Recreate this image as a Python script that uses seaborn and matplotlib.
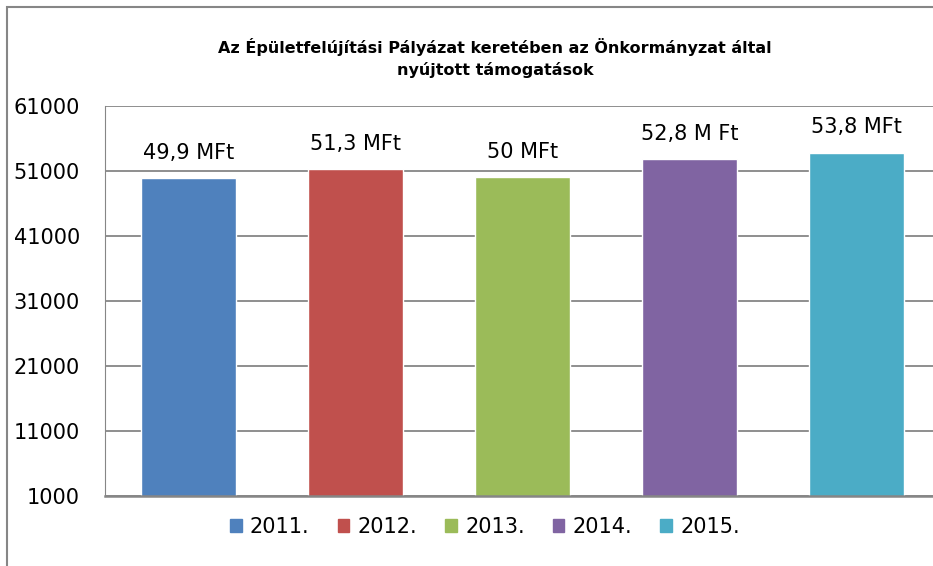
import matplotlib
matplotlib.use("Agg")
import matplotlib.pyplot as plt
import matplotlib.patches as mpatches
import seaborn as sns
import pandas as pd

years = ["2011.", "2012.", "2013.", "2014.", "2015."]
values = [49900, 51300, 50000, 52800, 53800]
labels = ["49,9 MFt", "51,3 MFt", "50 MFt", "52,8 M Ft", "53,8 MFt"]
colors = ["#4F81BD", "#C0504D", "#9BBB59", "#8064A2", "#4BACC6"]
yticks = [1000, 11000, 21000, 31000, 41000, 51000, 61000]

sns.set_style("white")
plt.rcParams["font.family"] = ["DejaVu Sans"]
plt.rcParams["text.color"] = "black"
plt.rcParams["ytick.color"] = "black"

df = pd.DataFrame({"year": years, "value": values})

fig = plt.figure(figsize=(9.33, 5.66), dpi=100)
ax = fig.add_axes([105 / 933, 70 / 566, 835 / 933, 390 / 566])

sns.barplot(data=df, x="year", y="value", hue="year", palette=colors,
            saturation=1, width=0.57, edgecolor="white", linewidth=1,
            ax=ax, legend=False)

ax.set_ylim(1000, 61000)
ax.set_xlim(-0.5, 4.5)
ax.set_yticks(yticks)
ax.set_yticklabels([str(t) for t in yticks], fontsize=15, color="black")
ax.set_xticks([])
ax.set_xlabel("")
ax.set_ylabel("")
ax.tick_params(axis="y", length=0, pad=18)
ax.grid(axis="y", color="#868686", linewidth=1.3)
ax.set_axisbelow(True)
for side in ["top", "right"]:
    ax.spines[side].set_visible(False)
ax.spines["left"].set_color("#868686")
ax.spines["bottom"].set_color("#868686")
ax.spines["bottom"].set_linewidth(1.8)

for i, (v, lab) in enumerate(zip(values, labels)):
    ax.annotate(lab, (i, v), xytext=(0, 14), textcoords="offset points",
                ha="center", va="baseline", fontsize=15, color="black")

handles = [mpatches.Patch(color=c, label=y) for c, y in zip(colors, years)]
fig.legend(handles=handles, loc="center", bbox_to_anchor=(485 / 933, 1 - 527 / 566),
           ncol=5, frameon=False, fontsize=15, handlelength=0.55, handleheight=0.55,
           handletextpad=0.4, columnspacing=1.35, borderpad=0, labelcolor="black")

fig.text(495 / 933, 1 - 47 / 566,
         "Az Épületfelújítási Pályázat keretében az Önkormányzat által",
         ha="center", va="center", fontsize=11.5, fontweight="bold", color="black")
fig.text(495 / 933, 1 - 70 / 566, "nyújtott támogatások",
         ha="center", va="center", fontsize=11.5, fontweight="bold", color="black")

# outer chart border (right and bottom edges fall outside the image)
border = mpatches.Rectangle((7 / 933, -0.1), 1.1, 1 - 7 / 566 + 0.1,
                            transform=fig.transFigure, fill=False,
                            edgecolor="#868686", linewidth=1.5)
fig.patches.append(border)

fig.savefig("out.png", dpi=100)
